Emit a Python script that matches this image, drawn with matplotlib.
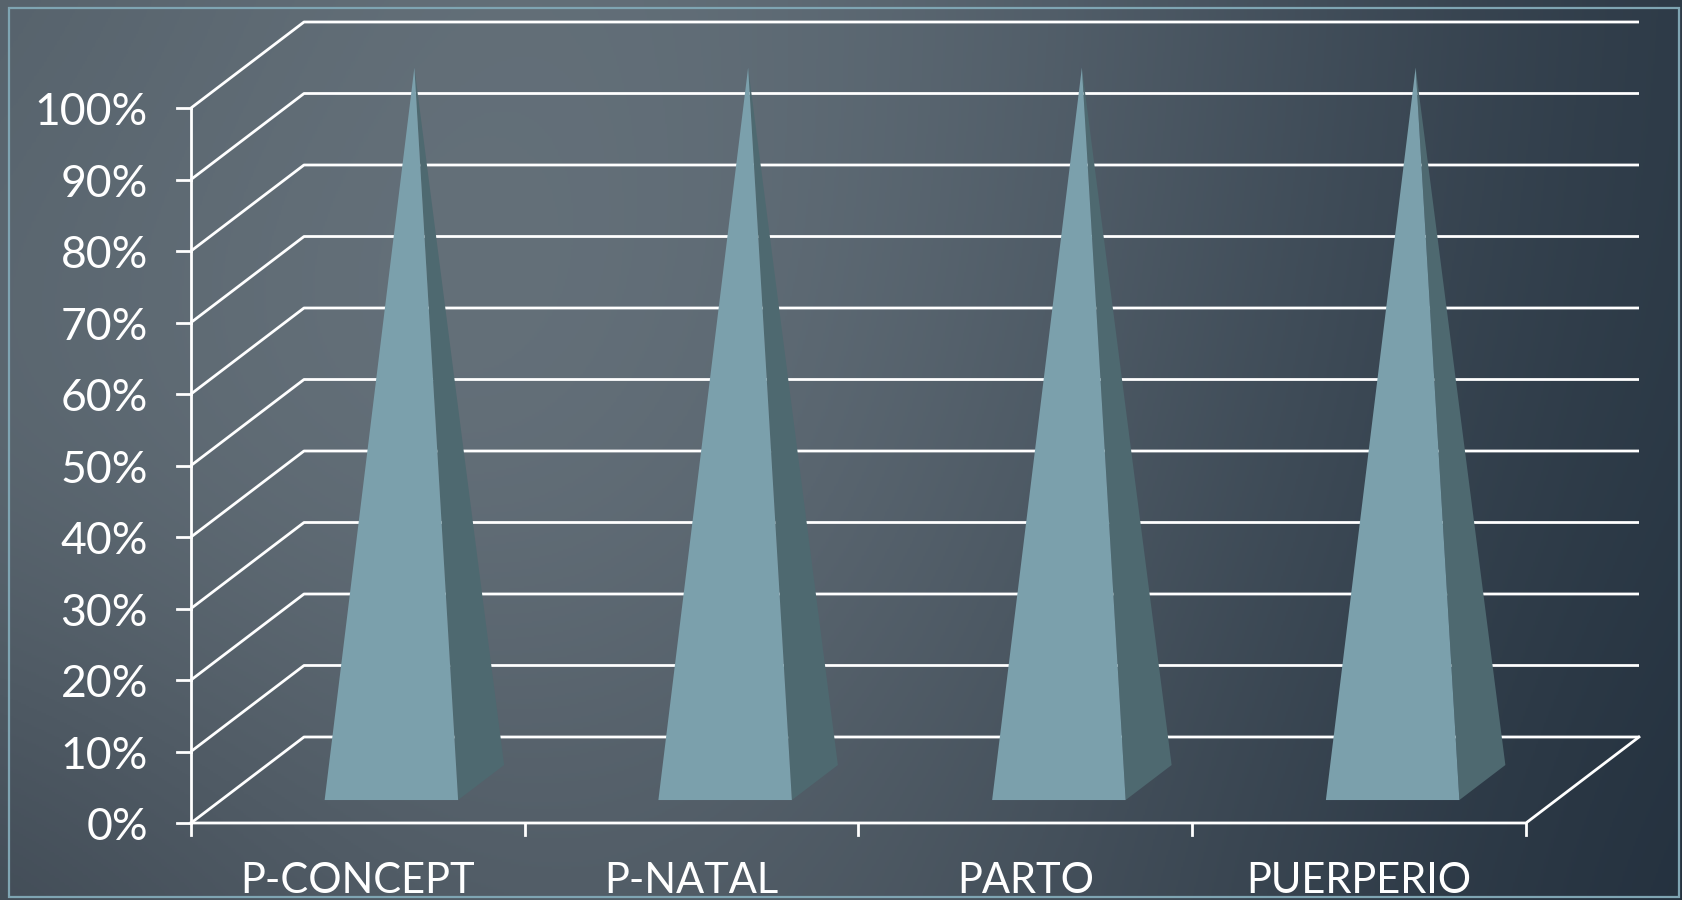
import numpy as np
import matplotlib
matplotlib.use('Agg')
import matplotlib.pyplot as plt
from matplotlib.patches import Polygon, Rectangle

# ---- data ----
categories = ['P-CONCEPT', 'P-NATAL', 'PARTO', 'PUERPERIO']
values = [100, 100, 100, 100]
y_ticks = list(range(0, 101, 10))
y_tick_labels = [f'{t}%' for t in y_ticks]

# ---- style ----
W, H = 1683, 900
FONT = 'Lato'
LINE = 'white'
FRONT = '#7ba0ac'
SIDE = '#4e6970'
BORDER = '#7fa5b3'

fig = plt.figure(figsize=(W / 100, H / 100), dpi=100)

# background gradient
bg = fig.add_axes([0, 0, 1, 1], zorder=0)
grid = np.array([
    [(82, 94, 104), (100, 112, 121), (95, 108, 118), (70, 82, 94), (42, 55, 68)],
    [(95, 107, 116), (108, 120, 129), (94, 106, 116), (64, 77, 89), (40, 54, 67)],
    [(58, 68, 79), (80, 91, 101), (78, 89, 99), (54, 66, 78), (32, 45, 59)],
]) / 255.0
bg.imshow(grid, extent=[-0.125, 1.125, -0.25, 1.25], aspect='auto',
          interpolation='bicubic', origin='upper')
bg.set_xlim(0, 1)
bg.set_ylim(0, 1)
bg.axis('off')
bg.add_patch(Rectangle((9.5 / W, 3.5 / H), (1679 - 9.5) / W, (894.5 - 5.5) / H,
                       fill=False, edgecolor=BORDER, lw=1.6))

# main axes (front plane)
ax = fig.add_axes([191 / W, 77 / H, 1335 / W, 715 / H], zorder=1)
ax.set_xlim(0, len(categories))
ax.set_ylim(0, 100)
ax.axis('off')

DX = 113 / 1335 * len(categories)   # depth offset (x units)
DY = 86 / 715 * 100                 # depth offset (y units)


def P(x, v, z):
    return (x + z * DX, v + z * DY)


n = len(categories)
lw = 2.0
# gridlines: left wall diagonals + back wall
for v in y_ticks:
    pts = [P(0, v, 0), P(0, v, 1), P(n, v, 1)]
    ax.plot(*zip(*pts), color=LINE, lw=lw, clip_on=False, zorder=2,
            solid_capstyle='butt')
# floor front + right edge
pts = [P(0, 0, 0), P(n, 0, 0), P(n, 0, 1)]
ax.plot(*zip(*pts), color=LINE, lw=lw, clip_on=False, zorder=2)
# y axis
ax.plot([0, 0], [0, 100], color=LINE, lw=lw, clip_on=False, zorder=2)
# y ticks and labels
for v, lab in zip(y_ticks, y_tick_labels):
    ax.plot([-0.042, 0], [v, v], color=LINE, lw=lw, clip_on=False, zorder=2)
    ax.text(-0.129, v - 2.4, lab, ha='right', va='baseline', color='white',
            fontsize=32, family=FONT)
# x ticks
for i in range(n + 1):
    ax.plot([i, i], [0, -1.7], color=LINE, lw=lw, clip_on=False, zorder=2)
# category labels
for i, c in enumerate(categories):
    ax.text(i + 0.5, -9.8, c, ha='center', va='baseline', color='white',
            fontsize=30, family=FONT)

# pyramids
w = 0.2
z0, z1 = 0.267, 0.674
zm = (z0 + z1) / 2
for i, v in enumerate(values):
    c = i + 0.51
    front = [P(c - w, 0, z0), P(c + w, 0, z0), P(c, v, zm)]
    side = [P(c + w, 0, z0), P(c + w, 0, z1), P(c, v, zm)]
    ax.add_patch(Polygon(side, closed=True, facecolor=SIDE, edgecolor='none',
                         zorder=3, clip_on=False))
    ax.add_patch(Polygon(front, closed=True, facecolor=FRONT, edgecolor='none',
                         zorder=4, clip_on=False))

fig.savefig('out.png', dpi=100)
